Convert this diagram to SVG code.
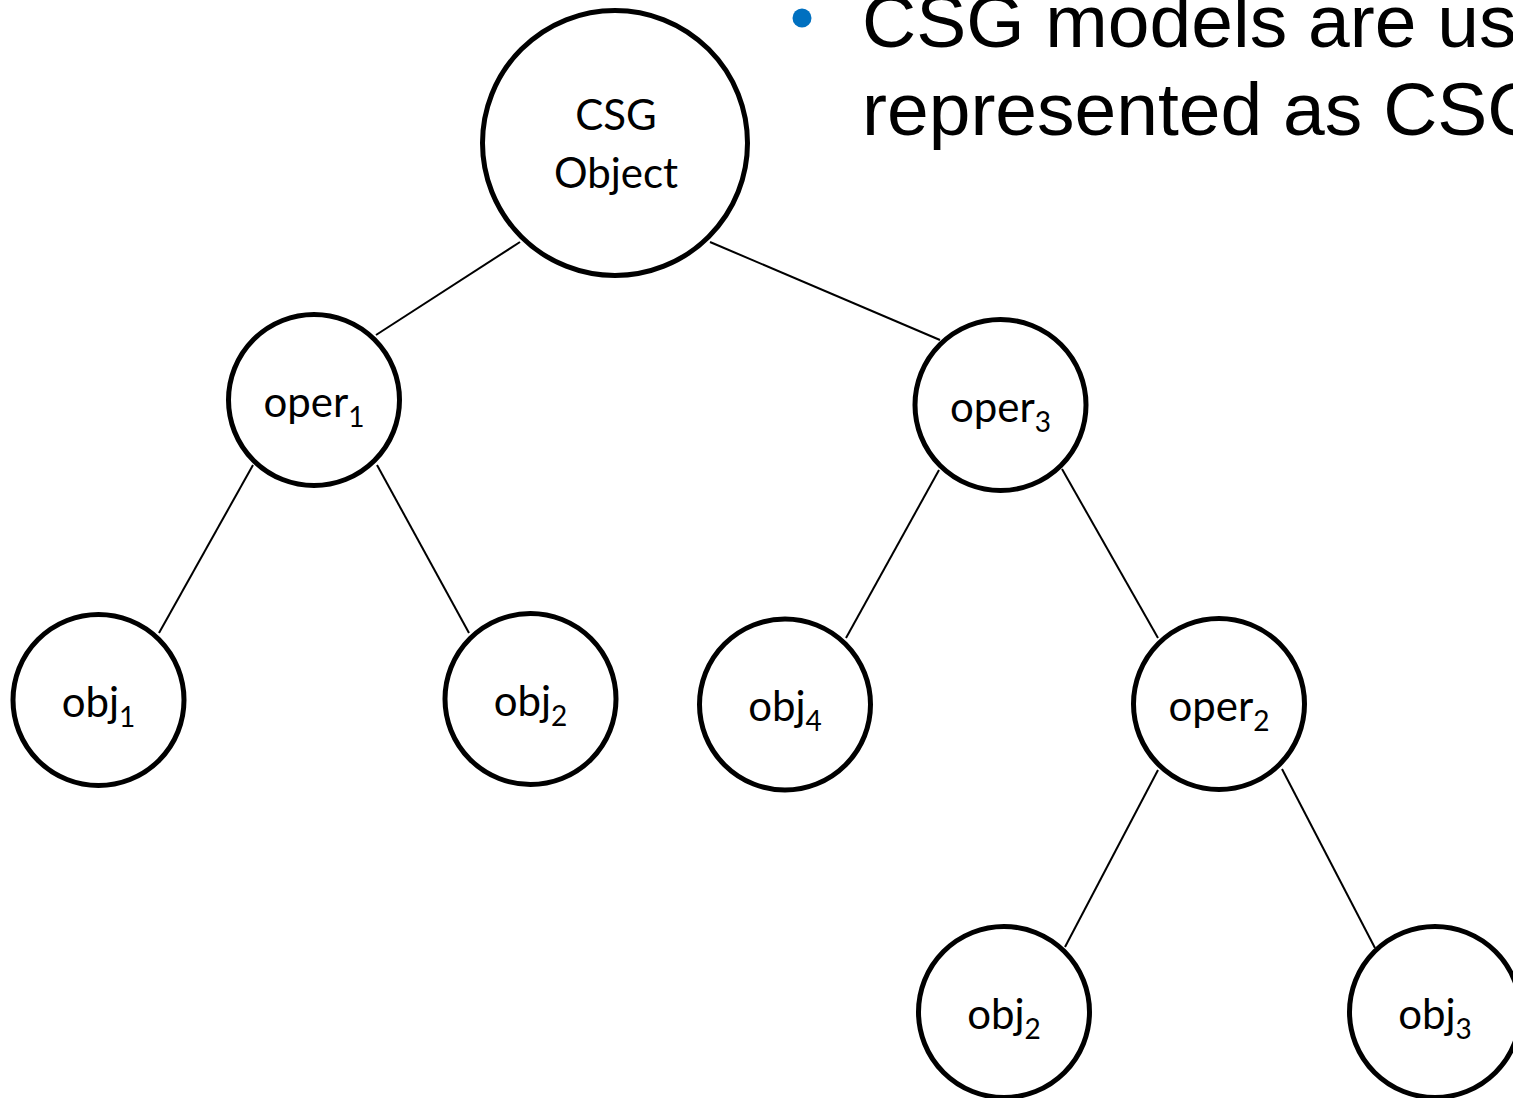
<svg xmlns="http://www.w3.org/2000/svg" width="1513" height="1098" viewBox="0 0 1513 1098">
<style>
.node{fill:#fff;stroke:#000;stroke-width:5}
.edge{stroke:#000;stroke-width:2;fill:none}
.lbl{font-family:Lato,"Open Sans","Liberation Sans",sans-serif;font-size:42px;fill:#000;text-anchor:middle}
.sub{font-size:28px}
.bul{font-family:"Liberation Sans",Arial,sans-serif;font-size:75px;fill:#000}
</style>
<rect width="1513" height="1098" fill="#fff"/>
<g id="bullet">
<circle cx="802" cy="18" r="9.5" fill="#0070C0"/>
<text class="bul" x="862" y="47">CSG models are us</text>
<text class="bul" x="862" y="135">represented as CSG</text>
</g>
<g id="connectors">
<line class="edge" x1="520" y1="242" x2="376" y2="335"/>
<line class="edge" x1="710" y1="242" x2="940" y2="340"/>
<line class="edge" x1="253" y1="465" x2="159" y2="633"/>
<line class="edge" x1="377" y1="465" x2="469" y2="633"/>
<line class="edge" x1="939" y1="470" x2="846" y2="638"/>
<line class="edge" x1="1062" y1="469" x2="1158" y2="638"/>
<line class="edge" x1="1158" y1="770" x2="1065" y2="947"/>
<line class="edge" x1="1282" y1="769" x2="1375" y2="948"/>
</g>
<g id="root">
<circle class="node" cx="615" cy="143" r="132.5"/>
<text class="lbl" x="616" y="130">CSG</text>
<text class="lbl" x="616" y="188">Object</text>
</g>
<g id="oper1">
<circle class="node" cx="314" cy="400" r="85.5"/>
<text class="lbl" x="314" y="417">oper<tspan class="sub" dy="10">1</tspan></text>
</g>
<g id="oper3">
<circle class="node" cx="1000.5" cy="405" r="85.5"/>
<text class="lbl" x="1000.5" y="422">oper<tspan class="sub" dy="10">3</tspan></text>
</g>
<g id="obj1">
<circle class="node" cx="98.5" cy="700" r="85.5"/>
<text class="lbl" x="98.5" y="717">obj<tspan class="sub" dy="10">1</tspan></text>
</g>
<g id="obj2a">
<circle class="node" cx="530.5" cy="699" r="85.5"/>
<text class="lbl" x="530.5" y="716">obj<tspan class="sub" dy="10">2</tspan></text>
</g>
<g id="obj4">
<circle class="node" cx="785" cy="704.5" r="85.5"/>
<text class="lbl" x="785" y="721">obj<tspan class="sub" dy="10">4</tspan></text>
</g>
<g id="oper2">
<circle class="node" cx="1219" cy="704" r="85.5"/>
<text class="lbl" x="1219" y="721">oper<tspan class="sub" dy="10">2</tspan></text>
</g>
<g id="obj2b">
<circle class="node" cx="1004" cy="1012" r="85.5"/>
<text class="lbl" x="1004" y="1029">obj<tspan class="sub" dy="10">2</tspan></text>
</g>
<g id="obj3">
<circle class="node" cx="1435" cy="1012" r="85.5"/>
<text class="lbl" x="1435" y="1029">obj<tspan class="sub" dy="10">3</tspan></text>
</g>
</svg>
